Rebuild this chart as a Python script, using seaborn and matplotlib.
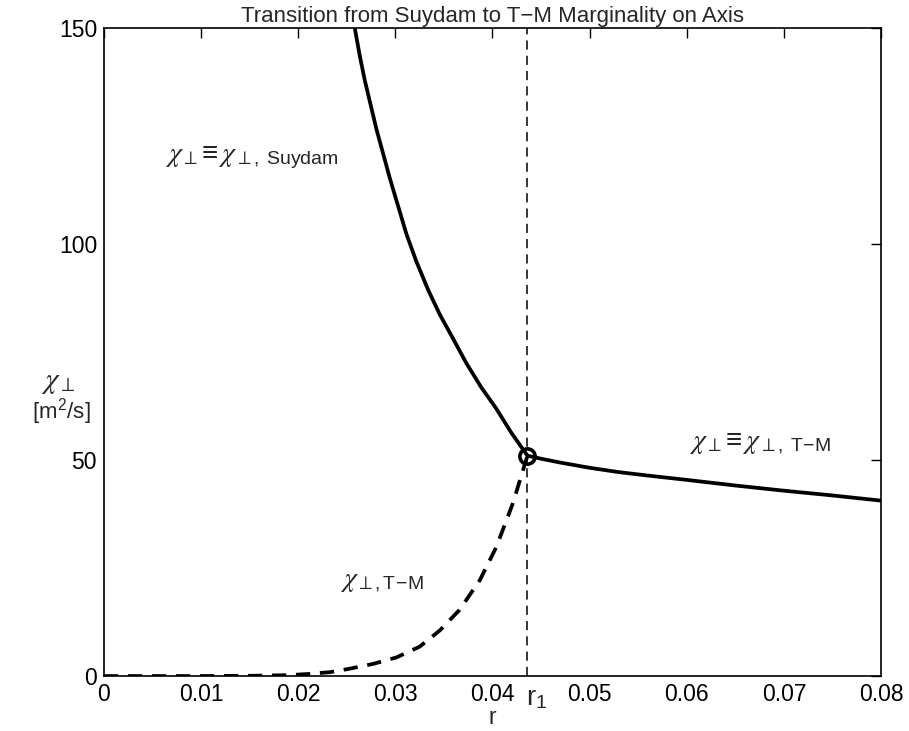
import numpy as np
import pandas as pd
import matplotlib
matplotlib.use("Agg")
import matplotlib.pyplot as plt
import matplotlib.transforms as mtransforms
import seaborn as sns

# ---- data ----
r_suydam = [0.02582, 0.02634, 0.02685, 0.02737, 0.02805, 0.02874, 0.02942,
            0.03028, 0.03114, 0.03217, 0.03337, 0.03457, 0.03594, 0.03731,
            0.03885, 0.04039, 0.04194, 0.0436]
chi_suydam = [150.0, 143.5, 137.9, 133.0, 126.6, 120.9, 115.3,
              108.8, 102.3, 95.9, 89.4, 83.7, 78.1, 72.4,
              66.8, 61.9, 56.3, 51.0]

r_tm_solid = [0.0436, 0.0450, 0.0470, 0.0500, 0.0530, 0.0560, 0.0600,
              0.0650, 0.0700, 0.0750, 0.0800]
chi_tm_solid = [51.0, 50.3, 49.4, 48.2, 47.2, 46.4, 45.4, 44.1, 42.9, 41.8, 40.6]

r_tm_dashed = [0.0, 0.005, 0.010, 0.015, 0.019, 0.0212, 0.0233, 0.0253, 0.0277,
               0.0301, 0.0325, 0.0346, 0.0366, 0.0387, 0.0404, 0.0421, 0.0436]
chi_tm_dashed = [0.0, 0.0, 0.0, 0.05, 0.2, 0.5, 0.9, 1.7, 2.8,
                 4.3, 6.8, 10.6, 15.3, 22.2, 29.9, 40.0, 51.0]

r1 = 0.0436
chi_r1 = 51.0

x_ticks = [0, 0.01, 0.02, 0.03, 0.04, 0.05, 0.06, 0.07, 0.08]
x_ticklabels = ["0", "0.01", "0.02", "0.03", "0.04", "0.05", "0.06", "0.07", "0.08"]
y_ticks = [0, 50, 100, 150]
y_ticklabels = ["0", "50", "100", "150"]

title = "Transition from Suydam to T\u2212M Marginality on Axis"

# ---- style ----
sns.set_theme(style="white")
plt.rcParams["font.family"] = ["Liberation Sans", "DejaVu Sans"]
plt.rcParams["mathtext.fontset"] = "custom"
plt.rcParams["mathtext.rm"] = "Liberation Sans"
plt.rcParams["mathtext.it"] = "STIXGeneral:italic"
plt.rcParams["mathtext.fallback"] = "stix"

fig = plt.figure(figsize=(9.09, 7.31), dpi=100)
ax = fig.add_axes([0.1144, 0.0752, 0.8548, 0.8865])

df_s = pd.DataFrame({"r": r_suydam, "chi": chi_suydam})
df_t = pd.DataFrame({"r": r_tm_solid, "chi": chi_tm_solid})
df_d = pd.DataFrame({"r": r_tm_dashed, "chi": chi_tm_dashed})

sns.lineplot(data=df_s, x="r", y="chi", ax=ax, color="black", lw=2.7, sort=False)
sns.lineplot(data=df_t, x="r", y="chi", ax=ax, color="black", lw=2.7, sort=False)
sns.lineplot(data=df_d, x="r", y="chi", ax=ax, color="black", lw=2.7, sort=False)
ax.lines[-1].set_dashes([3.8, 2.6])
for ln in ax.lines:
    ln.set_solid_joinstyle("round")

ax.axvline(r1, color="black", lw=1.1, dashes=(6, 4))
ax.plot([r1], [chi_r1], marker="o", ms=11, mfc="none", mec="black", mew=2.6)

ax.set_xlim(0, 0.08)
ax.set_ylim(0, 150)
ax.set_xticks(x_ticks)
ax.set_xticklabels(x_ticklabels)
ax.set_yticks(y_ticks)
ax.set_yticklabels(y_ticklabels)
ax.tick_params(direction="in", length=7, width=1.0, top=True, right=True,
               labelsize=16.5, pad=5, colors="black")
for s in ax.spines.values():
    s.set_color("black")
    s.set_linewidth(1.2)

ax.set_xlabel("r", fontsize=16.5, labelpad=0)
ax.set_ylabel("")
ax.set_title(title, fontsize=16, pad=4)

# r1 label on the x axis
trans = mtransforms.blended_transform_factory(ax.transData, ax.transAxes)
ax.text(r1 - 0.0002, -0.014, r"$\mathrm{r}_{\mathrm{1}}$", transform=trans,
        ha="left", va="top", fontsize=20)

# y label (two lines, horizontal)
fig.text(0.064, 0.478, r"$\chi_{\perp}$", ha="center", va="center", fontsize=21)
fig.text(0.068, 0.437, r"[m$^{2}$/s]", ha="center", va="center", fontsize=16)

# annotations
ax.text(0.0063, 120, r"$\chi_{\perp}\!\equiv\chi_{\perp,\ \mathrm{Suydam}}$",
        fontsize=20, ha="left", va="center")
ax.text(0.0602, 54, r"$\chi_{\perp}\!\equiv\chi_{\perp,\ \mathrm{T\!-\!M}}$",
        fontsize=20, ha="left", va="center")
ax.text(0.0243, 22, r"$\chi_{\perp,\mathrm{T\!-\!M}}$",
        fontsize=20, ha="left", va="center")

fig.savefig("out.png", dpi=100)
